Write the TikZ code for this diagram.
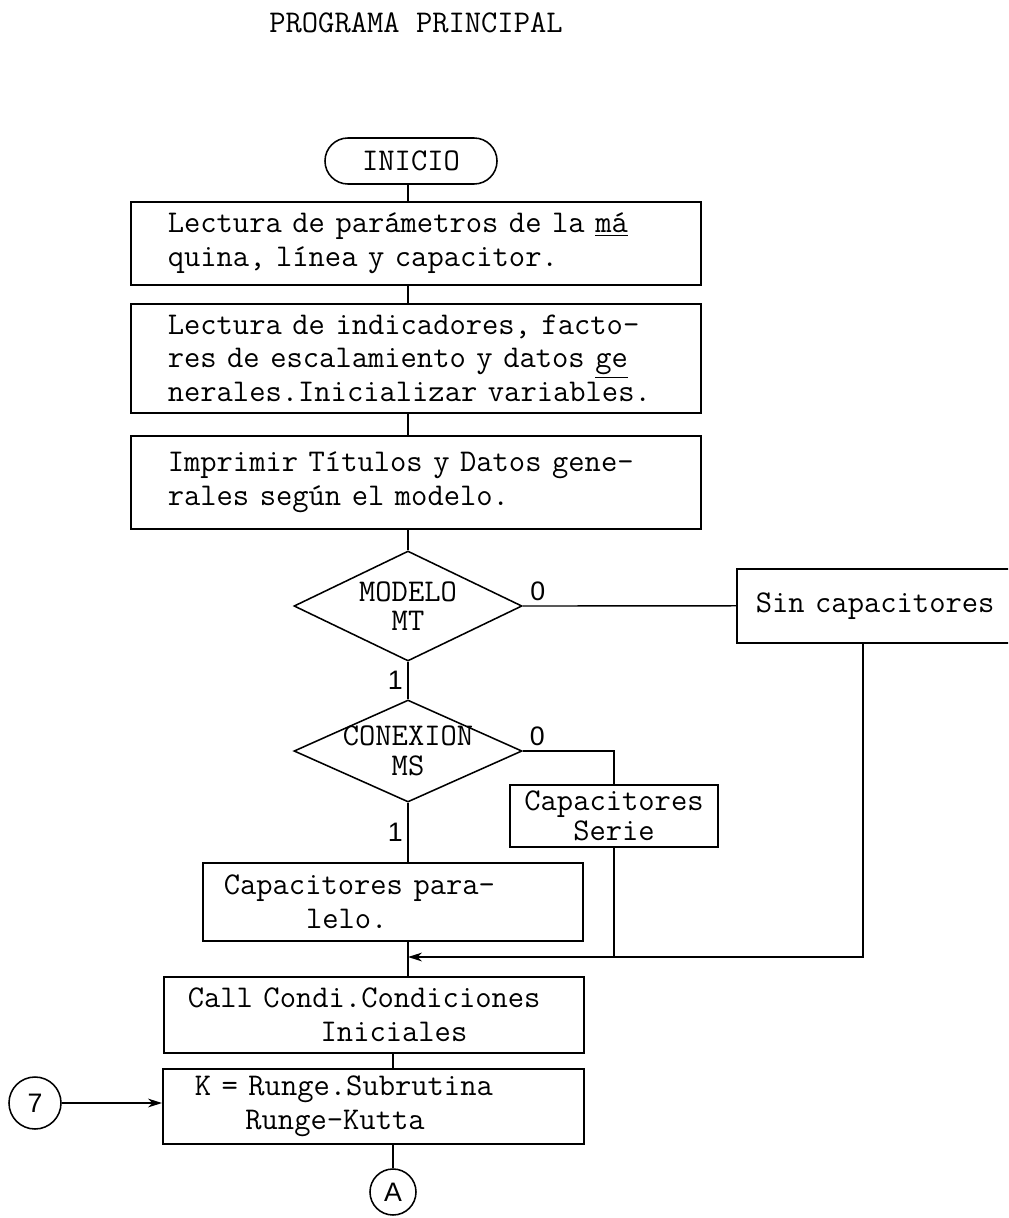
\documentclass[tikz,border=0pt]{standalone}
\usepackage{fontspec}
\newfontfamily\digitfont{Liberation Sans}
\usetikzlibrary{arrows.meta,positioning,shapes.geometric,calc}
\newcommand\typewriter[1]{\ttfamily\frenchspacing\fontsize{22.5}{#1}\selectfont\spaceskip=\fontcharwd\font`x\relax}
\tikzset{
  txt/.style={font=\typewriter{24}},
  proc/.style={rectangle, draw, line width=1.1pt, align=left, anchor=north west, inner ysep=0pt, txt},
  widebox/.style={proc, text width=12.4cm, inner xsep=0.925cm},
  smallbox/.style={rectangle, draw, line width=1.1pt, align=center, inner sep=0pt, font=\typewriter{21}},
  terminal/.style={rectangle, rounded corners=0.575cm, draw, line width=1.1pt, minimum width=4.3cm, minimum height=1.15cm, txt},
  decision/.style={diamond, draw, line width=1.1pt, aspect=2.07, inner sep=-0.2cm, minimum width=5.7cm, align=center, font=\typewriter{21}},
  connector/.style={circle, draw, line width=1.1pt, inner sep=0pt, font=\digitfont\fontsize{19}{24}\selectfont},
  branch/.style={font=\digitfont\fontsize{19}{24}\selectfont},
  link/.style={draw, line width=1pt},
  arrow/.style={link, -{Stealth[length=3.5mm,width=2.2mm]}}
}
\begin{document}
\begin{tikzpicture}[x=0.025cm, y=-0.025cm]
  \useasboundingbox (0,0) rectangle (1008,1218);
  \clip (0,0) rectangle (1008,1218);

  \node[txt] (title) at (416,23) {PROGRAMA PRINCIPAL};
  \node[terminal] (inicio) at (411,161) {INICIO};
  \node[widebox, minimum height=2.075cm] (lect1) at (130,201) {Lectura de parámetros de la \underline{má}\\quina, línea y capacitor.};
  \node[widebox, minimum height=2.725cm] (lect2) at (130,303) {Lectura de indicadores, facto-\\res de escalamiento y datos \underline{ge}\\nerales.Inicializar variables.};
  \node[widebox, minimum height=2.325cm] (impr) at (130,435) {Imprimir Títulos y Datos gene-\\rales según el modelo.};
  \node[decision, minimum height=2.75cm] (modelo) at (408,606) {MODELO\\MT};
  \node[proc, text width=6.3cm, inner xsep=0.475cm, minimum height=1.85cm] (sin) at (736,568) {Sin capacitores};
  \node[decision, minimum height=2.55cm] (conexion) at (408,751) {CONEXION\\MS};
  \node[smallbox, minimum width=5.2cm, minimum height=1.55cm] (serie) at (614,816) {Capacitores\\Serie};
  \node[proc, text width=8.45cm, inner xsep=0.525cm, minimum height=1.95cm] (paralelo) at (202,862) {Capacitores para-\\\hspace*{2.6em}lelo.};
  \node[proc, text width=9.3cm, inner xsep=0.6cm, minimum height=1.9cm] (call) at (163,976) {Call Condi.Condiciones\\\hspace*{4.2em}Iniciales};
  \node[proc, text width=8.925cm, inner xsep=0.8cm, minimum height=1.875cm] (runge) at (162,1068) {K = Runge.Subrutina\\\hspace*{1.6em}Runge-Kutta};
  \node[connector, minimum size=1.3cm] (siete) at (35,1103) {7};
  \node[connector, minimum size=1.15cm] (enlaceA) at (393,1192) {A};

  \coordinate (merge) at (408,957);
  \coordinate (sinout) at ($(sin.south west)+(127,0)$);

  \draw[link] (inicio.south -| modelo) -- (lect1.north -| modelo);
  \draw[link] (lect1.south -| modelo) -- (lect2.north -| modelo);
  \draw[link] (lect2.south -| modelo) -- (impr.north -| modelo);
  \draw[link] (impr.south -| modelo) -- (modelo.north);
  \draw[link] (modelo.east) -- node[branch, pos=0.07, above] {0} (sin.west);
  \draw[link] (modelo.south) -- node[branch, left] {1} (conexion.north);
  \draw[link] (conexion.east) -| node[branch, pos=0.08, above] {0} (serie.north);
  \draw[link] (conexion.south) -- node[branch, left] {1} (conexion.south |- paralelo.north);
  \draw[link] (paralelo.south -| modelo) -- (call.north -| modelo);
  \draw[link] (serie.south) -- (serie.south |- merge);
  \draw[arrow] (sinout) |- (merge);
  \draw[link] (call.south -| enlaceA) -- (runge.north -| enlaceA);
  \draw[link] (runge.south -| enlaceA) -- (enlaceA.north);
  \draw[arrow] (siete.east) -- (siete.east -| runge.west);
\end{tikzpicture}
\end{document}
